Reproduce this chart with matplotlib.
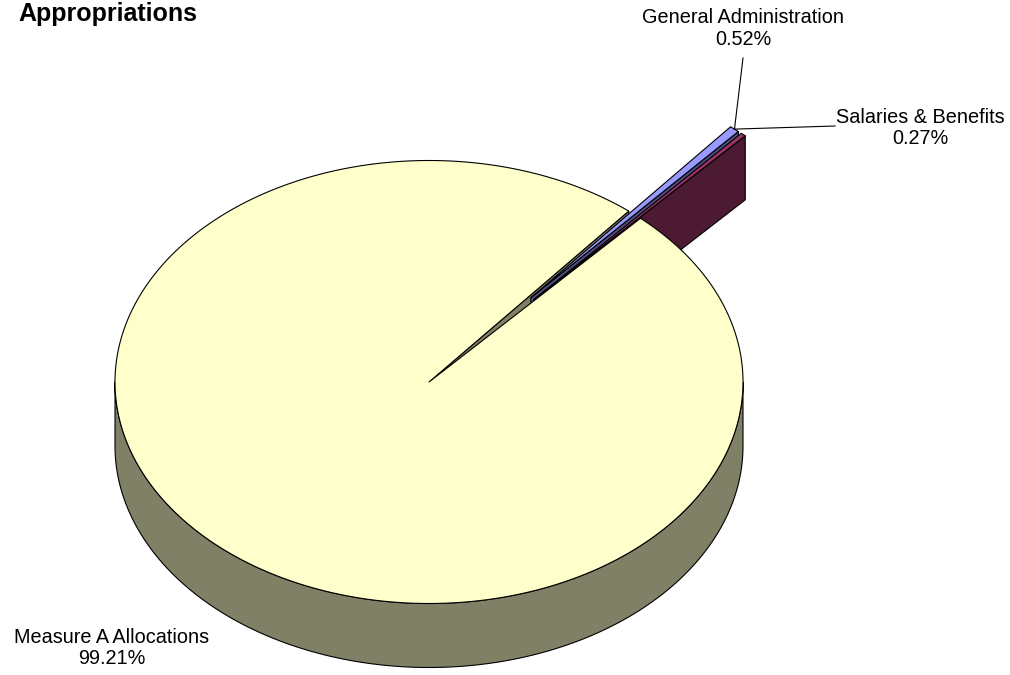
import numpy as np
import matplotlib.pyplot as plt
from matplotlib.patches import Polygon

plt.rcParams['font.family'] = ['Liberation Sans', 'DejaVu Sans']

# data
categories = ['General Administration', 'Salaries & Benefits', 'Measure A Allocations']
shares = [0.52, 0.27, 99.21]
explode = [0.5, 0.5, 0.0]
top_colors = ['#9999FF', '#993366', '#FFFFCC']
side_colors = ['#4D4D80', '#4D1A33', '#808066']
first_angle = 39.5  # degrees, clockwise from 12 o'clock (Excel style)

# layout of the fake 3D pie, in pixels
cx, cy = 429, 382
rx, ry = 314, 221.5
depth = 64


def pt(r, th, off, z=0.0):
    x = cx + rx * (r * np.cos(th) + off[0])
    y = cy - ry * (r * np.sin(th) + off[1]) + z
    return np.column_stack([np.atleast_1d(x), np.atleast_1d(y)])


fig = plt.figure(figsize=(10.1, 6.75), dpi=100)
ax = fig.add_axes([0, 0, 1, 1])
ax.set_xlim(0, 1010)
ax.set_ylim(675, 0)
ax.axis('off')

# slice angles (math convention, radians)
slices = []
acc = first_angle
for i, s in enumerate(shares):
    phi0, phi1 = acc, acc + s * 3.6
    acc = phi1
    t1, t2 = np.radians(90 - phi1), np.radians(90 - phi0)
    mid = 0.5 * (t1 + t2)
    off = (explode[i] * np.cos(mid), explode[i] * np.sin(mid))
    slices.append((t1, t2, mid, off))

edge = dict(edgecolor='black', linewidth=0.8, joinstyle='round')


def radial_faces(i):
    t1, t2, mid, off = slices[i]
    for th, vis in ((t1, np.cos(t1) > 0), (t2, np.cos(t2) < 0)):
        if not vis:
            continue
        c = pt(0, th, off)[0]
        e = pt(1, th, off)[0]
        poly = [c, e, e + [0, depth], c + [0, depth]]
        ax.add_patch(Polygon(poly, closed=True, facecolor=side_colors[i], **edge))


def walls(i):
    t1, t2, mid, off = slices[i]
    for k in range(-2, 2):
        a = max(t1, -np.pi + 2 * np.pi * k)
        b = min(t2, 2 * np.pi * k)
        if b <= a:
            continue
        th = np.linspace(a, b, 200)
        top = pt(1, th, off)
        bot = pt(1, th[::-1], off, depth)
        ax.add_patch(Polygon(np.vstack([top, bot]), closed=True,
                             facecolor=side_colors[i], **edge))


def top_face(i):
    t1, t2, mid, off = slices[i]
    th = np.linspace(t1, t2, max(3, int(abs(t2 - t1) * 150)))
    poly = np.vstack([pt(0, 0, off), pt(1, th, off)])
    ax.add_patch(Polygon(poly, closed=True, facecolor=top_colors[i], **edge))


# big slice faces seen through the gap, then exploded slices, then big slice
radial_faces(2)
for i in (0, 1):
    radial_faces(i)
    walls(i)
    top_face(i)
walls(2)
top_face(2)

# leader lines and labels
tip_ga = pt(1, slices[0][2], slices[0][3])[0]
ax.plot([tip_ga[0], 743], [tip_ga[1], 58], color='black', lw=0.8)
ax.plot([tip_ga[0], 835], [tip_ga[1], 126], color='black', lw=0.8)

lab = dict(fontsize=14.3, ha='center', va='center', linespacing=1.15)
ax.text(743, 28.5, f'{categories[0]}\n{shares[0]:.2f}%', **lab)
ax.text(920, 128, f'{categories[1]}\n{shares[1]:.2f}%', **lab)
ax.text(112, 648, f'{categories[2]}\n{shares[2]:.2f}%', **lab)

ax.text(18, 21, 'Appropriations', fontsize=18, fontweight='bold',
        ha='left', va='baseline')

fig.savefig('out.png', dpi=100)
